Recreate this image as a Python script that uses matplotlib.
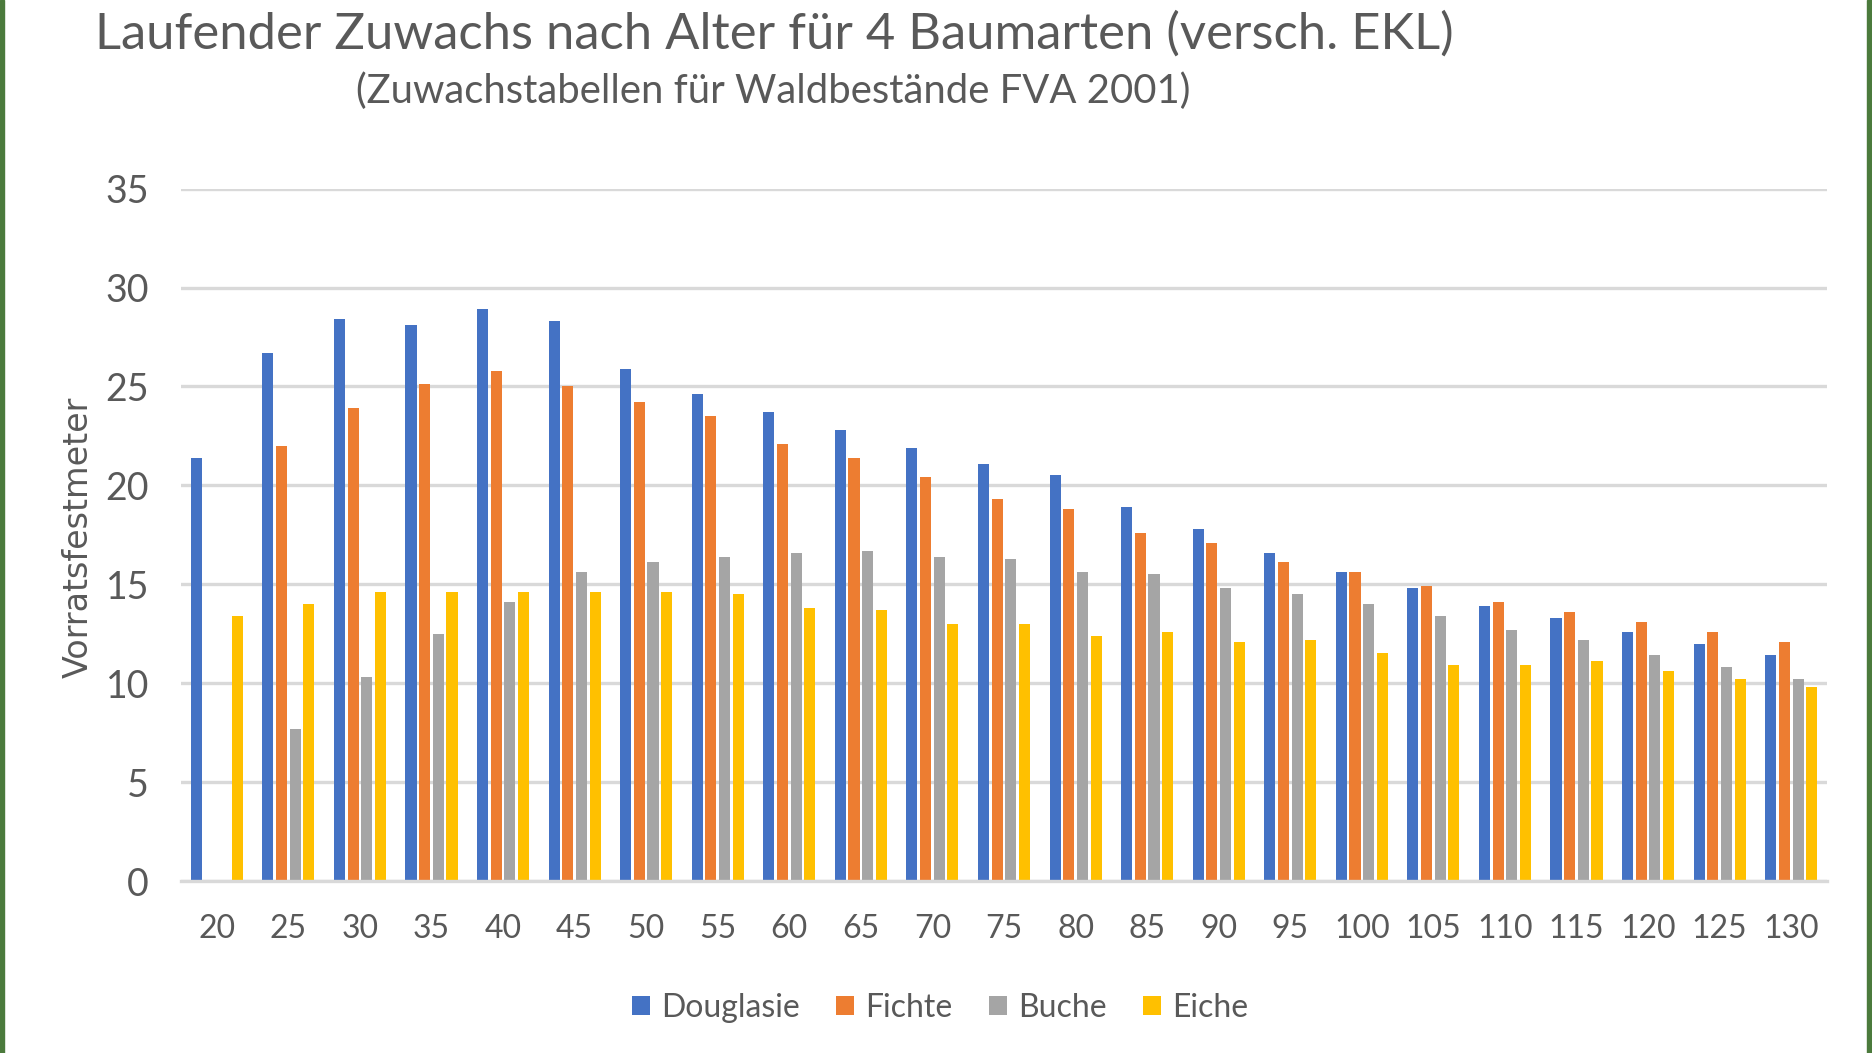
import matplotlib
matplotlib.use("Agg")
import matplotlib.pyplot as plt
from matplotlib.patches import Rectangle
import numpy as np

ages = [20, 25, 30, 35, 40, 45, 50, 55, 60, 65, 70, 75, 80, 85, 90, 95, 100, 105, 110, 115, 120, 125, 130]
douglasie = [21.4, 26.7, 28.4, 28.1, 28.9, 28.3, 25.9, 24.6, 23.7, 22.8, 21.9, 21.1, 20.5, 18.9, 17.8, 16.6, 15.6, 14.8, 13.9, 13.3, 12.6, 12.0, 11.4]
fichte = [np.nan, 22.0, 23.9, 25.1, 25.8, 25.0, 24.2, 23.5, 22.1, 21.4, 20.4, 19.3, 18.8, 17.6, 17.1, 16.1, 15.6, 14.9, 14.1, 13.6, 13.1, 12.6, 12.1]
buche = [np.nan, 7.7, 10.3, 12.5, 14.1, 15.6, 16.1, 16.4, 16.6, 16.7, 16.4, 16.3, 15.6, 15.5, 14.8, 14.5, 14.0, 13.4, 12.7, 12.2, 11.4, 10.8, 10.2]
eiche = [13.4, 14.0, 14.6, 14.6, 14.6, 14.6, 14.6, 14.5, 13.8, 13.7, 13.0, 13.0, 12.4, 12.6, 12.1, 12.2, 11.5, 10.9, 10.9, 11.1, 10.6, 10.2, 9.8]

series_names = ["Douglasie", "Fichte", "Buche", "Eiche"]
series_values = [douglasie, fichte, buche, eiche]
colors = ["#4472C4", "#ED7D31", "#A5A5A5", "#FFC000"]

title = "Laufender Zuwachs nach Alter für 4 Baumarten (versch. EKL)"
subtitle = "(Zuwachstabellen für Waldbestände FVA 2001)"
ylabel = "Vorratsfestmeter"

W, H = 1872, 1053
fig = plt.figure(figsize=(W / 100, H / 100), dpi=100)
fig.patch.set_facecolor("white")
font = "Lato"
txtcol = "#595959"

ax = fig.add_axes([181 / W, 1 - 881 / H, (1827 - 181) / W, (881 - 188.6) / H])
x = np.arange(len(ages))
pitch = 0.191
bw = 0.155
for i, (name, vals, c) in enumerate(zip(series_names, series_values, colors)):
    ax.bar(x + (i - 1.5) * pitch, vals, width=bw, color=c, label=name, zorder=3)

ax.set_xlim(-0.5, len(ages) - 0.5)
ax.set_ylim(0, 35)
ax.set_yticks(range(0, 36, 5))
ax.set_xticks(x)
ax.set_xticklabels([str(a) for a in ages])
ax.grid(axis="y", color="#D9D9D9", linewidth=2.4, zorder=0)
ax.set_axisbelow(True)
for s in ["top", "right", "left"]:
    ax.spines[s].set_visible(False)
ax.spines["bottom"].set_color("#D9D9D9")
ax.spines["bottom"].set_linewidth(2.4)
ax.spines["bottom"].set_zorder(4)
ax.tick_params(axis="both", length=0, labelcolor=txtcol)
ax.tick_params(axis="x", labelsize=23, pad=24)
ax.tick_params(axis="y", labelsize=27, pad=23)
for lab in ax.get_xticklabels() + ax.get_yticklabels():
    lab.set_fontfamily(font)

fig.text(78 / W, 1 - 537 / H, ylabel, rotation=90, ha="center", va="center",
         fontsize=24, color=txtcol, family="DejaVu Sans")

fig.text(95 / W, 1 - 34 / H, title, ha="left", va="center", fontsize=36.5, color=txtcol, family=font)
fig.text(356 / W, 1 - 91 / H, subtitle, ha="left", va="center", fontsize=28.8, color=txtcol, family=font)

leg = fig.legend(loc="center", bbox_to_anchor=(940 / W, 1 - 1008 / H), ncol=4, frameon=False,
                 prop={"family": font, "size": 23}, handlelength=0.55, handleheight=0.55,
                 handletextpad=0.35, columnspacing=1.15, labelcolor=txtcol)

green = "#4B7A3C"
fig.patches.append(Rectangle((0, 0), 4 / W, 1, transform=fig.transFigure, color=green, zorder=10))
fig.patches.append(Rectangle((1867 / W, 0), 5 / W, 1, transform=fig.transFigure, color=green, zorder=10))

fig.savefig("out.png", dpi=100)
